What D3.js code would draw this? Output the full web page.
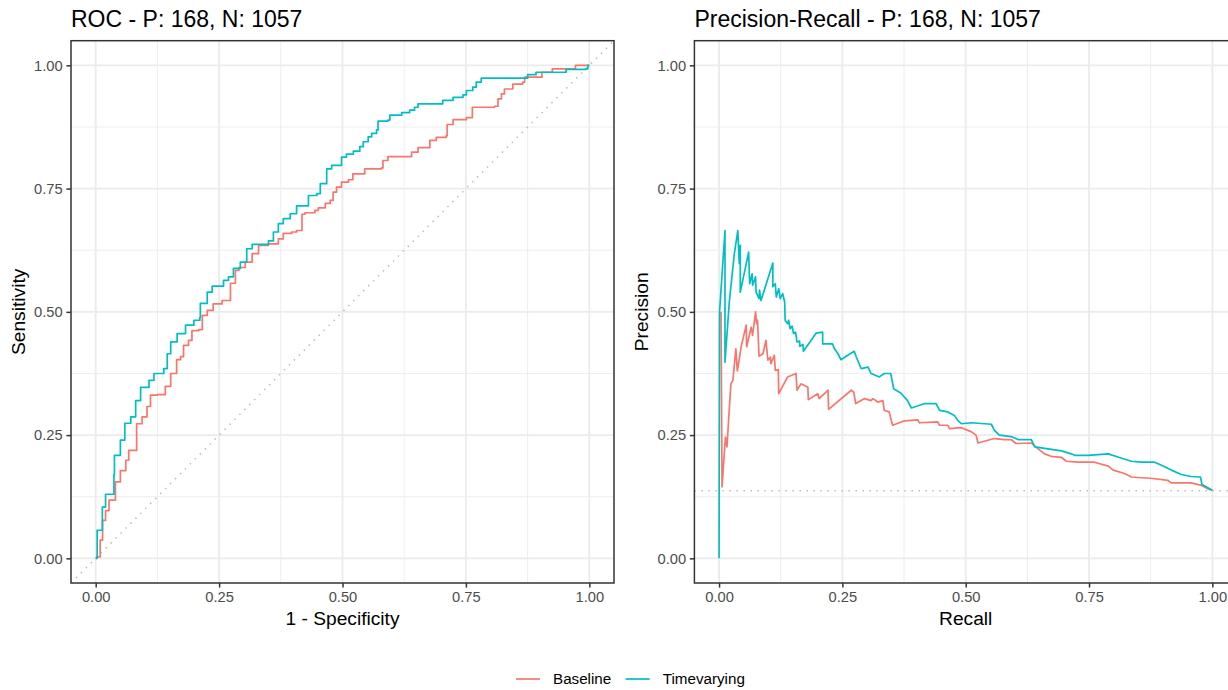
<!DOCTYPE html>
<html>
<head>
<meta charset="utf-8">
<script src="https://cdn.jsdelivr.net/npm/d3@7"></script>
<style>
  body { margin: 0; background: #fff; }
  svg { display: block; font-family: "Liberation Sans", Arial, sans-serif; }
</style>
</head>
<body>
<script>
// counts shown in the titles
var positives = 168, negatives = 1057;

var seriesNames = ["Baseline", "Timevarying"];
var seriesColors = ["#F8766D", "#00BFC4"];

var majorTicks = [0, 0.25, 0.5, 0.75, 1];
var minorTicks = [0.125, 0.375, 0.625, 0.875];

// ROC points: [1 - specificity, sensitivity]
var rocBaseline = [[0,0],[0.003,0.003],[0.009,0.037],[0.014,0.077],[0.02,0.097],[0.027,0.118],[0.037,0.118],[0.04,0.155],[0.05,0.178],[0.061,0.199],[0.067,0.219],[0.081,0.219],[0.083,0.273],[0.094,0.287],[0.104,0.308],[0.111,0.331],[0.125,0.332],[0.141,0.349],[0.152,0.375],[0.164,0.403],[0.172,0.409],[0.178,0.432],[0.188,0.442],[0.195,0.462],[0.209,0.464],[0.216,0.493],[0.226,0.503],[0.238,0.516],[0.256,0.523],[0.273,0.558],[0.283,0.584],[0.29,0.59],[0.303,0.601],[0.317,0.618],[0.33,0.635],[0.35,0.638],[0.37,0.648],[0.38,0.659],[0.397,0.662],[0.407,0.665],[0.418,0.698],[0.424,0.701],[0.444,0.706],[0.451,0.711],[0.465,0.72],[0.475,0.726],[0.481,0.743],[0.488,0.753],[0.498,0.763],[0.512,0.768],[0.521,0.78],[0.539,0.78],[0.545,0.79],[0.579,0.792],[0.582,0.807],[0.592,0.815],[0.633,0.815],[0.64,0.824],[0.653,0.833],[0.673,0.833],[0.677,0.848],[0.69,0.854],[0.71,0.857],[0.712,0.88],[0.724,0.89],[0.751,0.894],[0.763,0.915],[0.808,0.917],[0.815,0.932],[0.822,0.942],[0.828,0.952],[0.845,0.962],[0.865,0.966],[0.869,0.976],[0.902,0.976],[0.904,0.986],[0.925,0.993],[0.972,1],[1,1]];

var rocTimevarying = [[0,0],[0.002,0.002],[0.003,0.057],[0.0135,0.104],[0.02,0.13],[0.037,0.17],[0.038,0.209],[0.05,0.24],[0.059,0.274],[0.071,0.287],[0.081,0.32],[0.091,0.347],[0.108,0.361],[0.118,0.375],[0.138,0.385],[0.145,0.415],[0.152,0.439],[0.165,0.456],[0.182,0.473],[0.199,0.483],[0.211,0.489],[0.212,0.517],[0.226,0.54],[0.236,0.552],[0.259,0.564],[0.269,0.571],[0.279,0.588],[0.293,0.601],[0.306,0.628],[0.317,0.637],[0.35,0.644],[0.36,0.662],[0.37,0.679],[0.38,0.689],[0.394,0.699],[0.407,0.715],[0.428,0.715],[0.431,0.736],[0.448,0.74],[0.455,0.76],[0.468,0.79],[0.478,0.797],[0.492,0.797],[0.498,0.814],[0.508,0.82],[0.522,0.826],[0.535,0.835],[0.542,0.845],[0.552,0.855],[0.559,0.862],[0.569,0.869],[0.572,0.887],[0.592,0.889],[0.596,0.899],[0.62,0.904],[0.636,0.909],[0.646,0.915],[0.653,0.922],[0.697,0.922],[0.703,0.929],[0.724,0.935],[0.744,0.94],[0.751,0.949],[0.764,0.956],[0.771,0.966],[0.781,0.974],[0.872,0.974],[0.875,0.981],[0.892,0.986],[0.953,0.986],[0.953,0.992],[0.993,0.993],[0.997,1],[1,1]];

// Precision-recall points: [recall, precision]
var prBaseline = [[0.004,0.5],[0.006,0.145],[0.011,0.219],[0.013,0.246],[0.016,0.226],[0.021,0.307],[0.024,0.354],[0.028,0.361],[0.034,0.425],[0.037,0.38],[0.045,0.43],[0.055,0.473],[0.056,0.429],[0.065,0.469],[0.068,0.452],[0.074,0.5],[0.076,0.476],[0.078,0.483],[0.081,0.41],[0.089,0.415],[0.095,0.442],[0.099,0.402],[0.104,0.408],[0.105,0.395],[0.112,0.412],[0.114,0.381],[0.12,0.383],[0.121,0.334],[0.139,0.368],[0.156,0.375],[0.158,0.341],[0.166,0.354],[0.18,0.347],[0.181,0.322],[0.2,0.334],[0.203,0.324],[0.221,0.341],[0.222,0.302],[0.268,0.341],[0.273,0.337],[0.277,0.314],[0.295,0.324],[0.308,0.32],[0.312,0.324],[0.322,0.317],[0.332,0.32],[0.335,0.3],[0.345,0.297],[0.349,0.28],[0.352,0.27],[0.376,0.279],[0.403,0.281],[0.406,0.275],[0.443,0.277],[0.447,0.27],[0.464,0.27],[0.467,0.263],[0.491,0.265],[0.511,0.257],[0.521,0.25],[0.525,0.234],[0.558,0.243],[0.579,0.241],[0.592,0.241],[0.602,0.233],[0.633,0.234],[0.643,0.225],[0.66,0.212],[0.673,0.207],[0.694,0.205],[0.704,0.197],[0.727,0.195],[0.761,0.195],[0.789,0.187],[0.799,0.179],[0.822,0.172],[0.836,0.165],[0.849,0.164],[0.88,0.162],[0.91,0.158],[0.917,0.153],[0.957,0.153],[0.978,0.148],[0.991,0.141],[1,0.138]];

var prTimevarying = [[0,0],[0.001,0.5],[0.012,0.665],[0.012,0.398],[0.021,0.523],[0.031,0.618],[0.038,0.665],[0.041,0.598],[0.043,0.635],[0.043,0.54],[0.06,0.621],[0.062,0.557],[0.067,0.577],[0.068,0.554],[0.074,0.571],[0.075,0.54],[0.081,0.527],[0.082,0.544],[0.085,0.523],[0.109,0.599],[0.109,0.551],[0.114,0.557],[0.116,0.53],[0.121,0.547],[0.124,0.527],[0.129,0.537],[0.133,0.52],[0.134,0.483],[0.139,0.476],[0.141,0.483],[0.144,0.466],[0.148,0.471],[0.151,0.456],[0.155,0.459],[0.158,0.439],[0.163,0.441],[0.164,0.43],[0.17,0.434],[0.171,0.42],[0.197,0.457],[0.21,0.459],[0.21,0.435],[0.23,0.435],[0.234,0.425],[0.241,0.415],[0.247,0.403],[0.261,0.412],[0.274,0.42],[0.278,0.409],[0.288,0.385],[0.302,0.388],[0.308,0.375],[0.325,0.368],[0.335,0.375],[0.348,0.375],[0.354,0.344],[0.369,0.335],[0.382,0.32],[0.39,0.305],[0.417,0.314],[0.44,0.314],[0.447,0.3],[0.464,0.297],[0.477,0.29],[0.484,0.28],[0.491,0.273],[0.511,0.275],[0.552,0.272],[0.558,0.26],[0.568,0.25],[0.592,0.247],[0.606,0.241],[0.633,0.241],[0.64,0.226],[0.667,0.222],[0.694,0.218],[0.714,0.212],[0.721,0.209],[0.748,0.209],[0.789,0.212],[0.81,0.205],[0.836,0.197],[0.856,0.195],[0.883,0.195],[0.897,0.189],[0.917,0.179],[0.937,0.17],[0.957,0.166],[0.976,0.165],[0.979,0.15],[0.991,0.143],[1,0.138]];

var width = 1228, height = 690;
var panelTop = 40.7, panelBottom = 583;

var svg = d3.select("body").append("svg")
    .attr("width", width)
    .attr("height", height);

function drawPanel(o) {
  var x = d3.scaleLinear().domain([-0.05, 1.05]).range([o.left, o.right]);
  var y = d3.scaleLinear().domain([-0.05, 1.05]).range([panelBottom, panelTop]);
  var g = svg.append("g");

  g.append("clipPath").attr("id", o.id)
    .append("rect")
      .attr("x", o.left).attr("y", panelTop)
      .attr("width", o.right - o.left).attr("height", panelBottom - panelTop);

  // grid, minor first then major
  var grid = g.append("g").attr("stroke", "#EBEBEB");
  grid.selectAll(".minx").data(minorTicks).enter().append("line")
      .attr("x1", x).attr("x2", x).attr("y1", panelTop).attr("y2", panelBottom)
      .attr("stroke-width", 0.9);
  grid.selectAll(".miny").data(minorTicks).enter().append("line")
      .attr("y1", y).attr("y2", y).attr("x1", o.left).attr("x2", o.right)
      .attr("stroke-width", 0.9);
  grid.selectAll(".majx").data(majorTicks).enter().append("line")
      .attr("x1", x).attr("x2", x).attr("y1", panelTop).attr("y2", panelBottom)
      .attr("stroke-width", 1.8);
  grid.selectAll(".majy").data(majorTicks).enter().append("line")
      .attr("y1", y).attr("y2", y).attr("x1", o.left).attr("x2", o.right)
      .attr("stroke-width", 1.8);

  var plot = g.append("g").attr("clip-path", "url(#" + o.id + ")");

  // chance line
  plot.append("path")
      .attr("d", d3.line().x(function(d) { return x(d[0]); }).y(function(d) { return y(d[1]); })(o.ref))
      .attr("fill", "none")
      .attr("stroke", "#BDBDBD")
      .attr("stroke-width", 1.5)
      .attr("stroke-dasharray", "1.5,5.5");

  var line = d3.line()
      .curve(o.curve)
      .x(function(d) { return x(d[0]); })
      .y(function(d) { return y(d[1]); });

  plot.selectAll(".series").data(o.series).enter().append("path")
      .attr("d", line)
      .attr("fill", "none")
      .attr("stroke", function(d, i) { return seriesColors[i]; })
      .attr("stroke-width", 1.7)
      .attr("stroke-linejoin", "round");

  g.append("rect")
      .attr("x", o.left).attr("y", panelTop)
      .attr("width", o.right - o.left).attr("height", panelBottom - panelTop)
      .attr("fill", "none")
      .attr("stroke", "#333333")
      .attr("stroke-width", 1.5);

  var fmt = d3.format(".2f");
  var xa = g.append("g")
      .attr("transform", "translate(0," + panelBottom + ")")
      .call(d3.axisBottom(x).tickValues(majorTicks).tickFormat(fmt).tickSize(4.6).tickPadding(3.7));
  var ya = g.append("g")
      .attr("transform", "translate(" + o.left + ",0)")
      .call(d3.axisLeft(y).tickValues(majorTicks).tickFormat(fmt).tickSize(4.6).tickPadding(3.7));
  [xa, ya].forEach(function(a) {
    a.select(".domain").remove();
    a.selectAll(".tick line").attr("stroke", "#333333").attr("stroke-width", 1.5);
    a.selectAll(".tick text")
        .attr("fill", "#4D4D4D")
        .style("font-size", "14.7px")
        .style("font-family", "Liberation Sans, Arial, sans-serif");
  });

  g.append("text")
      .attr("x", o.left).attr("y", 27)
      .style("font-size", "23px")
      .attr("fill", "#000")
      .text(o.title);

  g.append("text")
      .attr("x", (o.left + o.right) / 2).attr("y", 625)
      .attr("text-anchor", "middle")
      .style("font-size", "19.2px")
      .text(o.xTitle);

  g.append("text")
      .attr("transform", "translate(" + (o.left - 46) + "," + ((panelTop + panelBottom) / 2) + ")rotate(-90)")
      .attr("text-anchor", "middle")
      .style("font-size", "19.2px")
      .text(o.yTitle);
}

var counts = " - P: " + positives + ", N: " + negatives;
var prevalence = positives / (positives + negatives);

drawPanel({
  id: "clipRoc", left: 71, right: 614,
  title: "ROC" + counts, xTitle: "1 - Specificity", yTitle: "Sensitivity",
  series: [rocBaseline, rocTimevarying],
  curve: d3.curveStepAfter,
  ref: [[-0.05, -0.05], [1.05, 1.05]]
});

drawPanel({
  id: "clipPr", left: 694.4, right: 1237,
  title: "Precision-Recall" + counts, xTitle: "Recall", yTitle: "Precision",
  series: [prBaseline, prTimevarying],
  curve: d3.curveLinear,
  ref: [[-0.05, prevalence], [1.05, prevalence]]
});

// legend
var legend = svg.append("g").selectAll("g")
    .data(seriesNames)
    .enter().append("g")
    .attr("transform", function(d, i) { return "translate(" + [516, 625.7][i] + ",679)"; });

legend.append("line")
    .attr("x1", 0).attr("x2", 24)
    .attr("stroke", function(d, i) { return seriesColors[i]; })
    .attr("stroke-width", 1.7);

legend.append("text")
    .attr("x", 37).attr("dy", "0.35em")
    .style("font-size", "15.2px")
    .text(function(d) { return d; });
</script>
</body>
</html>
